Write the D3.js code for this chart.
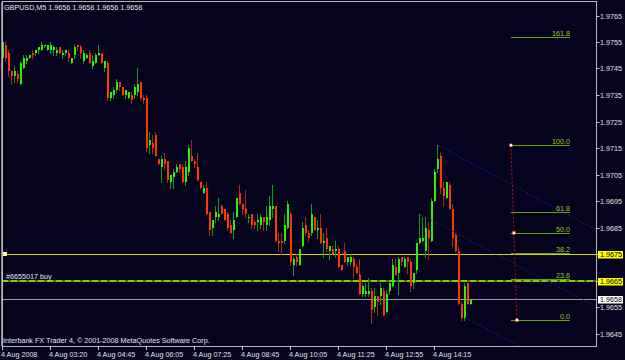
<!DOCTYPE html>
<html>
<head>
<meta charset="utf-8">
<script src="https://cdnjs.cloudflare.com/ajax/libs/d3/7.8.5/d3.min.js"></script>
<style>
  html, body { margin: 0; padding: 0; background: #06031f; }
  svg { display: block; }
  text { font-family: "Liberation Sans", Arial, sans-serif; font-size: 7.2px; }
</style>
</head>
<body>
<div id="chart"></div>
<script>
// --- chart data (GBPUSD M5, one bar every 5 minutes) ---
const openP  = [1.9749,1.9754,1.9751,1.9744,1.9742,1.9743,1.9739,1.9745,1.9748,1.9749,1.9751,1.9751,1.9752,1.9752,1.9754,1.9752,1.9752,1.9752,1.9751,1.9753,1.9750,1.9751,1.9751,1.9747,1.9750,1.9754,1.9753,1.9748,1.9749,1.9751,1.9746,1.9747,1.9750,1.9751,1.9745,1.9747,1.9734,1.9735,1.9737,1.9740,1.9738,1.9735,1.9734,1.9735,1.9735,1.9736,1.9740,1.9734,1.9734,1.9716,1.9717,1.9720,1.9711,1.9708,1.9711,1.9710,1.9702,1.9704,1.9706,1.9709,1.9708,1.9702,1.9706,1.9712,1.9710,1.9708,1.9702,1.9698,1.9700,1.9691,1.9685,1.9689,1.9689,1.9693,1.9692,1.9690,1.9686,1.9684,1.9689,1.9698,1.9694,1.9692,1.9689,1.9690,1.9687,1.9687,1.9686,1.9689,1.9686,1.9688,1.9692,1.9693,1.9680,1.9680,1.9680,1.9685,1.9690,1.9671,1.9674,1.9671,1.9678,1.9686,1.9683,1.9683,1.9689,1.9684,1.9685,1.9679,1.9681,1.9676,1.9677,1.9676,1.9677,1.9671,1.9676,1.9672,1.9672,1.9673,1.9670,1.9667,1.9660,1.9660,1.9660,1.9661,1.9655,1.9659,1.9659,1.9661,1.9653,1.9661,1.9663,1.9670,1.9668,1.9674,1.9670,1.9674,1.9672,1.9664,1.9669,1.9679,1.9680,1.9676,1.9684,1.9680,1.9695,1.9707,1.9712,1.9700,1.9696,1.9701,1.9692,1.9682,1.9676,1.9656,1.9651,1.9664,1.9656];
const highP  = [1.9756,1.9755,1.9752,1.9744,1.9746,1.9744,1.9748,1.9750,1.9750,1.9750,1.9752,1.9752,1.9753,1.9755,1.9754,1.9754,1.9755,1.9754,1.9753,1.9753,1.9752,1.9752,1.9752,1.9749,1.9754,1.9754,1.9754,1.9752,1.9751,1.9752,1.9750,1.9751,1.9754,1.9751,1.9748,1.9748,1.9736,1.9738,1.9741,1.9740,1.9738,1.9737,1.9736,1.9736,1.9739,1.9745,1.9740,1.9735,1.9735,1.9721,1.9720,1.9721,1.9711,1.9712,1.9713,1.9710,1.9705,1.9707,1.9709,1.9709,1.9709,1.9710,1.9716,1.9718,1.9711,1.9713,1.9702,1.9701,1.9702,1.9691,1.9688,1.9693,1.9696,1.9694,1.9692,1.9691,1.9688,1.9691,1.9696,1.9701,1.9694,1.9699,1.9690,1.9690,1.9688,1.9690,1.9690,1.9689,1.9693,1.9697,1.9701,1.9693,1.9683,1.9683,1.9690,1.9695,1.9691,1.9674,1.9675,1.9677,1.9687,1.9689,1.9684,1.9694,1.9689,1.9688,1.9690,1.9683,1.9685,1.9678,1.9678,1.9680,1.9678,1.9671,1.9679,1.9674,1.9675,1.9674,1.9671,1.9673,1.9664,1.9664,1.9666,1.9662,1.9662,1.9659,1.9664,1.9662,1.9661,1.9664,1.9673,1.9673,1.9674,1.9674,1.9674,1.9674,1.9673,1.9668,1.9679,1.9690,1.9689,1.9689,1.9687,1.9696,1.9707,1.9716,1.9713,1.9702,1.9702,1.9702,1.9694,1.9683,1.9678,1.9657,1.9664,1.9664,1.9658];
const lowP   = [1.9748,1.9748,1.9742,1.9739,1.9740,1.9740,1.9739,1.9745,1.9747,1.9749,1.9749,1.9750,1.9751,1.9752,1.9753,1.9752,1.9751,1.9750,1.9750,1.9751,1.9749,1.9750,1.9748,1.9747,1.9749,1.9752,1.9749,1.9747,1.9749,1.9747,1.9745,1.9747,1.9750,1.9747,1.9744,1.9733,1.9733,1.9734,1.9736,1.9737,1.9735,1.9734,1.9734,1.9732,1.9734,1.9735,1.9733,1.9732,1.9714,1.9713,1.9713,1.9712,1.9709,1.9702,1.9707,1.9702,1.9700,1.9700,1.9706,1.9706,1.9702,1.9701,1.9705,1.9710,1.9708,1.9703,1.9700,1.9698,1.9690,1.9682,1.9682,1.9687,1.9688,1.9690,1.9688,1.9684,1.9683,1.9681,1.9689,1.9694,1.9690,1.9689,1.9687,1.9685,1.9685,1.9684,1.9685,1.9684,1.9684,1.9686,1.9689,1.9680,1.9676,1.9675,1.9679,1.9685,1.9671,1.9667,1.9671,1.9671,1.9678,1.9682,1.9680,1.9682,1.9684,1.9681,1.9679,1.9674,1.9676,1.9673,1.9675,1.9674,1.9670,1.9669,1.9672,1.9671,1.9671,1.9666,1.9668,1.9660,1.9659,1.9659,1.9659,1.9649,1.9653,1.9652,1.9656,1.9652,1.9653,1.9660,1.9663,1.9667,1.9660,1.9671,1.9670,1.9668,1.9661,1.9662,1.9668,1.9679,1.9680,1.9674,1.9673,1.9680,1.9695,1.9706,1.9698,1.9693,1.9696,1.9692,1.9678,1.9676,1.9656,1.9650,1.9650,1.9656,1.9656];
const closeP = [1.9755,1.9749,1.9744,1.9742,1.9744,1.9741,1.9747,1.9749,1.9749,1.9750,1.9750,1.9752,1.9753,1.9754,1.9754,1.9754,1.9754,1.9753,1.9752,1.9751,1.9751,1.9752,1.9749,1.9749,1.9753,1.9753,1.9751,1.9751,1.9750,1.9747,1.9748,1.9750,1.9751,1.9747,1.9748,1.9734,1.9736,1.9737,1.9740,1.9738,1.9735,1.9737,1.9736,1.9733,1.9738,1.9739,1.9734,1.9733,1.9715,1.9718,1.9715,1.9712,1.9709,1.9711,1.9709,1.9703,1.9705,1.9706,1.9708,1.9707,1.9702,1.9708,1.9715,1.9710,1.9709,1.9703,1.9700,1.9700,1.9690,1.9684,1.9688,1.9691,1.9690,1.9690,1.9688,1.9685,1.9683,1.9688,1.9696,1.9694,1.9692,1.9690,1.9689,1.9686,1.9686,1.9688,1.9689,1.9687,1.9689,1.9693,1.9693,1.9680,1.9679,1.9679,1.9686,1.9694,1.9672,1.9673,1.9672,1.9677,1.9685,1.9683,1.9681,1.9690,1.9684,1.9685,1.9679,1.9680,1.9677,1.9678,1.9675,1.9677,1.9670,1.9669,1.9672,1.9674,1.9674,1.9670,1.9668,1.9660,1.9663,1.9661,1.9661,1.9654,1.9659,1.9657,1.9662,1.9652,1.9660,1.9664,1.9671,1.9667,1.9673,1.9672,1.9673,1.9672,1.9663,1.9668,1.9679,1.9681,1.9681,1.9685,1.9681,1.9695,1.9706,1.9711,1.9700,1.9697,1.9702,1.9692,1.9681,1.9676,1.9656,1.9651,1.9663,1.9656,1.9658];

// x-axis: bar index of each time label
const timeTickBars   = [0, 16, 32, 48, 64, 80, 96, 112, 128, 144];
const timeTickLabels = ["4 Aug 2008", "4 Aug 03:20", "4 Aug 04:45", "4 Aug 06:05", "4 Aug 07:25",
                        "4 Aug 08:45", "4 Aug 10:05", "4 Aug 11:25", "4 Aug 12:55", "4 Aug 14:15"];
// y-axis price ticks
const priceTicks = [1.9765, 1.9755, 1.9745, 1.9735, 1.9725, 1.9715, 1.9705, 1.9695,
                    1.9685, 1.9675, 1.9665, 1.9655, 1.9645];

// objects on the chart
const hLinePrice   = 1.9675;   // yellow horizontal line
const orderPrice   = 1.9665;   // open buy order
const orderLabel   = "#6655017 buy";
const bidPrice     = 1.9658;   // current bid
const headerText   = "GBPUSD,M5  1.9656 1.9658 1.9656 1.9658";
const footerText   = "Interbank FX Trader 4, \u00a9 2001-2008 MetaQuotes Software Corp.";

// fibonacci retracement anchors [bar, price]
const fibHigh   = [169.3, 1.9716];
const fibLow    = [171.3, 1.9650];
const fibEndBar = 189;
const fibLevels = [0, 23.6, 38.2, 50, 61.8, 100, 161.8];

// blue parallel trend lines [bar, price] -> [bar, price]
const channelStart = [[145, 1.9716], [139, 1.9690], [154, 1.9651]];
const channelEnd   = [[198, 1.9684], [198, 1.9655], [198, 1.9625]];

// --- layout ---
const W = 625, H = 360;
const plot = { left: 2, top: 2, right: 596.5, bottom: 346 };

const svg = d3.select("#chart").append("svg")
  .attr("width", W).attr("height", H);

svg.append("rect").attr("width", W).attr("height", H).attr("fill", "#06031f");

const x = d3.scaleLinear().domain([0, 198]).range([3, 597]);
const y = d3.scaleLinear().domain([1.9645, 1.9765]).range([333.5, 15.5]);

svg.append("clipPath").attr("id", "plotClip")
  .append("rect")
  .attr("x", plot.left).attr("y", plot.top)
  .attr("width", plot.right - plot.left).attr("height", plot.bottom - plot.top);

const g = svg.append("g").attr("clip-path", "url(#plotClip)");

// horizontal lines (behind candles)
g.append("line")
  .attr("x1", plot.left).attr("x2", plot.right)
  .attr("y1", Math.round(y(bidPrice)) + 0.5).attr("y2", Math.round(y(bidPrice)) + 0.5)
  .attr("stroke", "#9a9a9a").attr("stroke-width", 1);

const yOrder = Math.round(y(orderPrice));
g.append("line")
  .attr("x1", plot.left).attr("x2", plot.right)
  .attr("y1", yOrder).attr("y2", yOrder)
  .attr("stroke", "#6e5a1c").attr("stroke-width", 2);
g.append("line")
  .attr("x1", plot.left).attr("x2", plot.right)
  .attr("y1", yOrder).attr("y2", yOrder)
  .attr("stroke", "#76d400").attr("stroke-width", 2)
  .attr("stroke-dasharray", "6,3");

const yH = Math.round(y(hLinePrice)) + 0.5;
g.append("line")
  .attr("x1", plot.left).attr("x2", plot.right)
  .attr("y1", yH).attr("y2", yH)
  .attr("stroke", "#d6d600").attr("stroke-width", 1);

// candles
const bars = d3.range(openP.length).map(i => ({
  i, o: openP[i], h: highP[i], l: lowP[i], c: closeP[i]
}));

const candle = g.append("g").attr("shape-rendering", "crispEdges")
  .selectAll("g").data(bars).enter().append("g");

candle.append("line")
  .attr("x1", d => Math.round(x(d.i)) - 0.5)
  .attr("x2", d => Math.round(x(d.i)) - 0.5)
  .attr("y1", d => Math.round(y(d.h)))
  .attr("y2", d => Math.round(y(d.l)) + 1)
  .attr("stroke", d => d.c >= d.o ? "#129c12" : "#a82c08");

candle.append("rect")
  .attr("x", d => Math.round(x(d.i)) - 1)
  .attr("width", 2)
  .attr("y", d => Math.round(y(Math.max(d.o, d.c))))
  .attr("height", d => Math.max(1, Math.round(y(Math.min(d.o, d.c))) - Math.round(y(Math.max(d.o, d.c)))))
  .attr("fill", d => d.c >= d.o ? "#2cf200" : "#ff3600");

// blue trend lines
channelStart.forEach((s, k) => {
  const e = channelEnd[k];
  g.append("line")
    .attr("x1", x(s[0])).attr("y1", y(s[1]))
    .attr("x2", x(e[0])).attr("y2", y(e[1]))
    .attr("stroke", "#1a1aa8").attr("stroke-width", 1)
    .attr("stroke-dasharray", "2,2");
});

// fibonacci
const fx1 = x(fibHigh[0]), fx2 = x(fibEndBar);
fibLevels.forEach(lv => {
  const p = fibLow[1] + (fibHigh[1] - fibLow[1]) * lv / 100;
  const yy = Math.round(y(p)) + 0.5;
  g.append("line")
    .attr("x1", fx1).attr("x2", fx2)
    .attr("y1", yy).attr("y2", yy)
    .attr("stroke", "#5ea400").attr("stroke-width", 1);
  g.append("text")
    .attr("x", fx2).attr("y", yy - 1.5)
    .attr("text-anchor", "end")
    .attr("fill", "#9ccc1a")
    .text(lv.toFixed(1));
});

g.append("line")
  .attr("x1", x(fibHigh[0])).attr("y1", y(fibHigh[1]))
  .attr("x2", x(fibLow[0])).attr("y2", y(fibLow[1]))
  .attr("stroke", "#b81010").attr("stroke-width", 1)
  .attr("stroke-dasharray", "2,2");

const fibMid = [(fibHigh[0] + fibLow[0]) / 2, (fibHigh[1] + fibLow[1]) / 2];
[fibHigh, fibMid, fibLow].forEach(pt => {
  g.append("rect")
    .attr("x", x(pt[0]) - 1.5).attr("y", y(pt[1]) - 1.5)
    .attr("width", 3).attr("height", 3)
    .attr("fill", "#ffffff").attr("stroke", "#d02020").attr("stroke-width", 0.6);
});

// selected-line anchor marker
g.append("rect")
  .attr("x", plot.left + 1).attr("y", yH - 2.5)
  .attr("width", 4).attr("height", 4)
  .attr("fill", "#ffff90");

// order label and texts inside the plot
g.append("text")
  .attr("x", 6).attr("y", yOrder - 2)
  .attr("fill", "#e8e8e8")
  .text(orderLabel);

svg.append("text")
  .attr("x", 4).attr("y", 10)
  .attr("fill", "#e4e4e4")
  .text(headerText);

svg.append("text")
  .attr("x", 3).attr("y", 343)
  .attr("fill", "#e4e4e4")
  .text(footerText);

// frame
svg.append("rect")
  .attr("x", plot.left).attr("y", plot.top - 0.5)
  .attr("width", plot.right - plot.left).attr("height", plot.bottom - plot.top + 0.5)
  .attr("fill", "none").attr("stroke", "#b8b8b8").attr("stroke-width", 1)
  .attr("shape-rendering", "crispEdges");
svg.append("line")
  .attr("x1", plot.left - 0.5).attr("x2", plot.left - 0.5)
  .attr("y1", plot.top).attr("y2", plot.bottom)
  .attr("stroke", "#8a8a8a");

// right price axis
const yAxisG = svg.append("g");
priceTicks.forEach(p => {
  const yy = Math.round(y(p)) + 0.5;
  yAxisG.append("line")
    .attr("x1", plot.right).attr("x2", plot.right + 3)
    .attr("y1", yy).attr("y2", yy)
    .attr("stroke", "#c8c8c8");
  yAxisG.append("text")
    .attr("x", 600).attr("y", yy + 2.6)
    .attr("fill", "#e0e0e0")
    .text(d3.format(".4f")(p));
});

// price labels of the lines
[[hLinePrice, "#ffff00"], [orderPrice, "#ffff00"], [bidPrice, "#ffffff"]].forEach(([p, col]) => {
  const yy = Math.round(y(p)) + 0.5;
  yAxisG.append("rect")
    .attr("x", 598).attr("y", yy - 3.5)
    .attr("width", 25).attr("height", 7.5)
    .attr("fill", col);
  yAxisG.append("text")
    .attr("x", 600).attr("y", yy + 2.4)
    .attr("font-size", "6.8px")
    .attr("fill", "#000000")
    .text(d3.format(".4f")(p));
});

// bottom time axis
const xAxisG = svg.append("g");
timeTickBars.forEach((b, k) => {
  const xx = Math.round(x(b)) - 0.5;
  xAxisG.append("line")
    .attr("x1", xx).attr("x2", xx)
    .attr("y1", plot.bottom).attr("y2", plot.bottom + 4)
    .attr("stroke", "#c8c8c8");
  xAxisG.append("text")
    .attr("x", xx - 1.5).attr("y", 357)
    .attr("fill", "#e0e0e0")
    .text(timeTickLabels[k]);
});
</script>
</body>
</html>
